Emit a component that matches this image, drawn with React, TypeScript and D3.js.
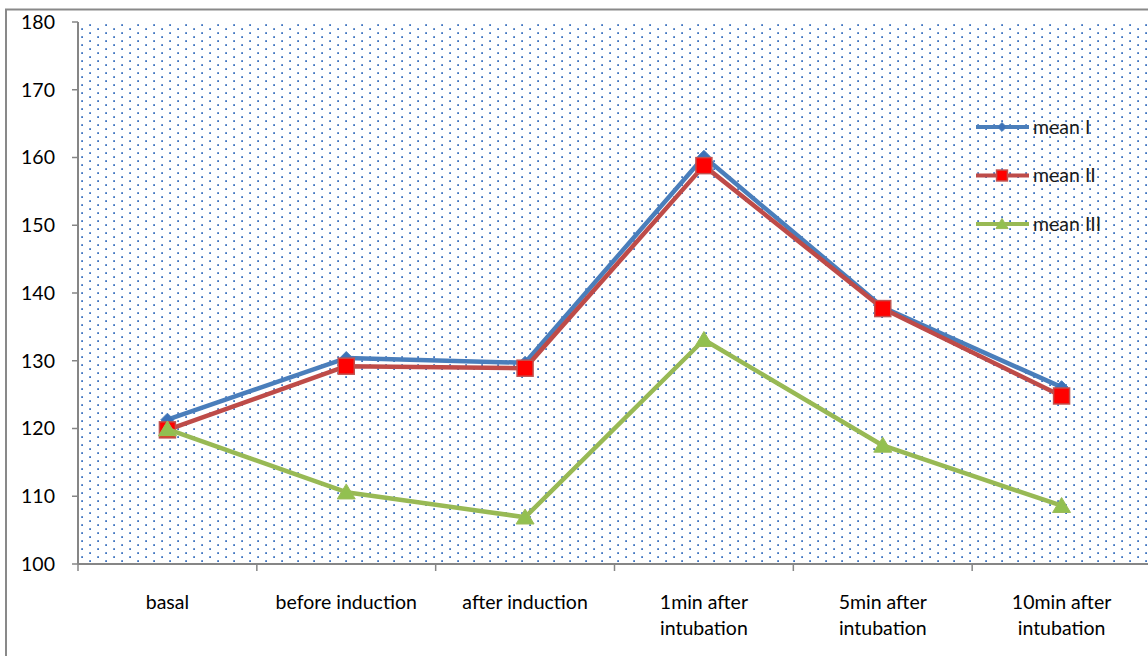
import React from "react";
import * as d3 from "d3";

const categories: string[][] = [
  ["basal"],
  ["before induction"],
  ["after induction"],
  ["1min after", "intubation"],
  ["5min after", "intubation"],
  ["10min after", "intubation"],
];
const meanI = [121.3, 130.4, 129.7, 160.1, 137.9, 126.1];
const meanII = [119.8, 129.2, 128.9, 158.8, 137.7, 124.8];
const meanIII = [119.9, 110.6, 106.9, 133.1, 117.5, 108.6];
const yTicks = [100, 110, 120, 130, 140, 150, 160, 170, 180];
const seriesNames = ["mean I", "mean II", "mean III"];

const W = 1148;
const H = 656;
const plot = { left: 78, top: 22, right: 1151, bottom: 564 };
const FONT = "Lato, 'Open Sans', sans-serif";
const FS = 19.5;

type Marker = "diamond" | "square" | "triangle";

function MarkerShape({ kind, x, y, scale = 1 }: { kind: Marker; x: number; y: number; scale?: number }) {
  if (kind === "diamond") {
    const r = 6.5 * scale;
    return (
      <path
        d={`M${x},${y - r}L${x + r},${y}L${x},${y + r}L${x - r},${y}Z`}
        fill="#3D72B8"
        stroke="#4A7EBB"
        strokeWidth={1}
      />
    );
  }
  if (kind === "square") {
    const s = 8 * scale;
    return (
      <rect x={x - s} y={y - s} width={2 * s} height={2 * s} fill="#FF0000" stroke="#C0504D" strokeWidth={1.5} />
    );
  }
  const w = 9 * scale;
  const h = 15 * scale;
  return (
    <path
      d={`M${x},${y - h * 0.55}L${x + w},${y + h * 0.45}L${x - w},${y + h * 0.45}Z`}
      fill="#92C050"
      stroke="#9BBB59"
      strokeWidth={1}
    />
  );
}

export default function App() {
  const x = d3
    .scaleBand<number>()
    .domain(categories.map((_, i) => i))
    .range([plot.left, plot.right]);
  const y = d3.scaleLinear().domain([100, 180]).range([plot.bottom, plot.top]);
  const cx = (i: number) => (x(i) as number) + x.bandwidth() / 2;

  const series: { name: string; values: number[]; color: string; marker: Marker }[] = [
    { name: seriesNames[0], values: meanI, color: "#4A7EBB", marker: "diamond" },
    { name: seriesNames[1], values: meanII, color: "#BE4B48", marker: "square" },
    { name: seriesNames[2], values: meanIII, color: "#98B954", marker: "triangle" },
  ];

  const line = d3
    .line<number>()
    .x((_, i) => cx(i))
    .y((d) => y(d));

  const tickBounds = d3.range(categories.length + 1).map((i) => plot.left + i * x.bandwidth());

  return (
    <svg
      width={W}
      height={H}
      style={{ position: "absolute", left: 0, top: 0, background: "#fff" }}
      fontFamily={FONT}
    >
      <defs>
        <pattern id="dots" patternUnits="userSpaceOnUse" width={16} height={8} x={81} y={28}>
          <rect x={0.2} y={0.2} width={1.8} height={1.8} fill="#3F74C0" />
          <rect x={8.2} y={4.2} width={1.8} height={1.8} fill="#3F74C0" />
        </pattern>
      </defs>
      <rect x={0} y={0} width={W} height={H} fill="#fff" />
      {/* outer border */}
      <rect x={6} y={9.5} width={W + 20} height={H + 20} fill="none" stroke="#898989" strokeWidth={2} />
      {/* plot area */}
      <rect
        x={plot.left}
        y={plot.top}
        width={plot.right - plot.left}
        height={plot.bottom - plot.top}
        fill="url(#dots)"
      />
      {/* y axis */}
      <line x1={plot.left} x2={plot.left} y1={plot.top} y2={plot.bottom} stroke="#868686" strokeWidth={2} />
      {yTicks.map((t) => (
        <g key={t}>
          <line x1={plot.left - 6} x2={plot.left} y1={y(t)} y2={y(t)} stroke="#868686" strokeWidth={1.5} />
          <text x={55} y={y(t)} dy="0.35em" textAnchor="end" fontSize={FS} fill="#000">
            {t}
          </text>
        </g>
      ))}
      {/* x axis */}
      <line x1={plot.left} x2={plot.right} y1={plot.bottom} y2={plot.bottom} stroke="#868686" strokeWidth={2} />
      {tickBounds.map((b, i) => (
        <line key={i} x1={b} x2={b} y1={plot.bottom} y2={plot.bottom + 7} stroke="#868686" strokeWidth={1.5} />
      ))}
      {categories.map((lines, i) => (
        <text key={i} x={cx(i)} textAnchor="middle" fontSize={FS} fill="#000">
          {lines.map((l, j) => (
            <tspan key={j} x={cx(i)} y={609 + j * 26}>
              {l}
            </tspan>
          ))}
        </text>
      ))}
      {/* series */}
      {series.map((s) => (
        <g key={s.name}>
          <path d={line(s.values) || ""} fill="none" stroke={s.color} strokeWidth={4.5} strokeLinejoin="round" />
          {s.values.map((v, i) => (
            <MarkerShape key={i} kind={s.marker} x={cx(i)} y={y(v)} />
          ))}
        </g>
      ))}
      {/* legend */}
      {series.map((s, i) => {
        const ly = 127 + i * 48.5;
        return (
          <g key={s.name}>
            <line x1={976} x2={1029} y1={ly} y2={ly} stroke={s.color} strokeWidth={4} />
            <MarkerShape kind={s.marker} x={1002} y={ly} scale={0.68} />
            <text x={1033} y={ly} dy="0.35em" fontSize={FS} fill="#1a1a1a">
              {s.name}
            </text>
          </g>
        );
      })}
    </svg>
  );
}
